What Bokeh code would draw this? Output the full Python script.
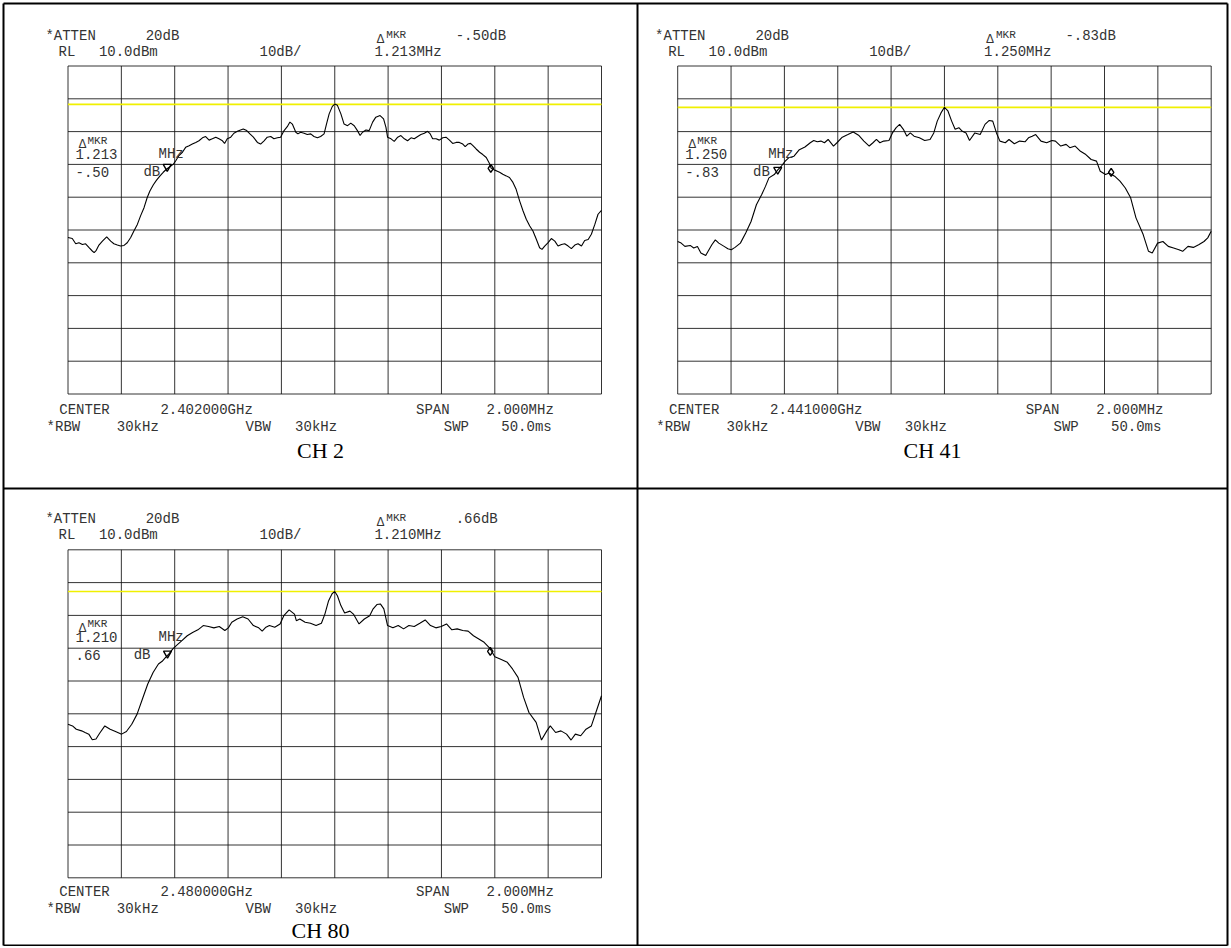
from bokeh.plotting import figure
from bokeh.models import Range1d, ColumnDataSource
from bokeh.embed import file_html
from bokeh.resources import INLINE
from bokeh.core.properties import value

# ---------------- data ----------------
channels = ["CH 2", "CH 41", "CH 80"]
center_ghz = [2.402, 2.441, 2.480]
span_mhz = 2.0
atten_db = 20
ref_level_dbm = 10.0
scale_db_div = 10
rbw_khz = 30
vbw_khz = 30
sweep_ms = 50.0
mkr_delta_mhz = [1.213, 1.250, 1.210]
mkr_delta_db = [-0.50, -0.83, 0.66]
mkr_ref_mhz = [-0.628, -0.625, -0.627]      # reference marker, offset from centre
mkr_ref_dbm = [-20.7, -21.6, -21.6]
display_line_dbm = [-1.7, -2.6, -2.7]

freq_div_mhz = [-1.0, -0.8, -0.6, -0.4, -0.2, 0.0, 0.2, 0.4, 0.6, 0.8, 1.0]
level_div_dbm = [-90, -80, -70, -60, -50, -40, -30, -20, -10, 0, 10]

# (offset from centre in MHz, level in dBm)
ch2_trace = [
    (-1.000, -42.3), (-0.984, -42.6), (-0.971, -44.2), (-0.959, -43.9), (-0.946, -44.4),
    (-0.934, -44.2), (-0.921, -45.4), (-0.909, -46.4), (-0.902, -46.9), (-0.894, -46.2),
    (-0.884, -44.6), (-0.871, -43.4), (-0.855, -42.1), (-0.840, -43.4), (-0.828, -44.2),
    (-0.815, -44.6), (-0.803, -44.9), (-0.790, -44.7), (-0.778, -43.9), (-0.765, -42.3),
    (-0.753, -40.3), (-0.740, -38.3), (-0.728, -35.7), (-0.715, -33.2), (-0.703, -30.1),
    (-0.693, -28.1), (-0.680, -26.2), (-0.668, -24.8), (-0.655, -23.5), (-0.643, -22.4),
    (-0.630, -21.4), (-0.618, -20.7), (-0.605, -19.9), (-0.596, -18.9), (-0.584, -17.3),
    (-0.571, -16.3), (-0.559, -14.8), (-0.546, -14.3), (-0.534, -13.8), (-0.521, -13.3),
    (-0.509, -12.8), (-0.496, -11.9), (-0.484, -11.5), (-0.471, -12.6), (-0.459, -12.2),
    (-0.446, -11.7), (-0.434, -12.2), (-0.421, -12.8), (-0.413, -13.6), (-0.403, -12.2),
    (-0.390, -11.7), (-0.378, -10.5), (-0.365, -9.9), (-0.353, -9.5), (-0.343, -9.2),
    (-0.330, -9.7), (-0.318, -10.7), (-0.305, -11.7), (-0.290, -13.3), (-0.278, -13.8),
    (-0.265, -12.8), (-0.253, -11.7), (-0.240, -11.5), (-0.228, -12.2), (-0.215, -11.9),
    (-0.203, -11.7), (-0.190, -9.7), (-0.178, -8.5), (-0.168, -7.1), (-0.159, -7.7),
    (-0.146, -10.2), (-0.138, -10.7), (-0.128, -10.2), (-0.115, -10.5), (-0.103, -10.9),
    (-0.090, -10.7), (-0.078, -11.5), (-0.065, -11.9), (-0.053, -11.5), (-0.040, -10.7),
    (-0.031, -7.7), (-0.021, -4.6), (-0.009, -2.3), (0.000, -1.6), (0.010, -2.0),
    (0.023, -4.6), (0.035, -7.7), (0.048, -8.2), (0.060, -7.4), (0.073, -8.2),
    (0.085, -9.7), (0.095, -11.2), (0.104, -10.2), (0.117, -9.5), (0.129, -9.7),
    (0.142, -7.1), (0.154, -5.6), (0.170, -5.1), (0.183, -6.1), (0.192, -8.7),
    (0.198, -11.7), (0.211, -12.2), (0.223, -13.0), (0.236, -11.7), (0.248, -11.2),
    (0.261, -12.2), (0.273, -12.8), (0.286, -11.9), (0.298, -12.2), (0.311, -11.5),
    (0.323, -10.9), (0.336, -10.5), (0.348, -9.9), (0.358, -10.7), (0.367, -12.2),
    (0.380, -12.2), (0.392, -12.6), (0.405, -11.9), (0.417, -11.7), (0.430, -12.6),
    (0.442, -13.6), (0.455, -13.3), (0.467, -13.3), (0.480, -13.8), (0.489, -14.6),
    (0.499, -13.8), (0.509, -13.6), (0.518, -14.3), (0.530, -15.3), (0.543, -16.3),
    (0.555, -17.0), (0.568, -17.9), (0.580, -19.7), (0.586, -21.1), (0.596, -21.6),
    (0.605, -21.9), (0.618, -22.4), (0.630, -23.0), (0.643, -23.5), (0.655, -24.0),
    (0.668, -25.5), (0.680, -27.6), (0.693, -31.1), (0.706, -34.2), (0.718, -36.7),
    (0.731, -38.8), (0.743, -40.3), (0.756, -42.9), (0.768, -45.4), (0.777, -45.9),
    (0.787, -44.9), (0.799, -43.9), (0.812, -42.6), (0.825, -43.4), (0.837, -44.9),
    (0.850, -44.4), (0.862, -44.2), (0.875, -44.9), (0.887, -45.7), (0.900, -44.6),
    (0.912, -44.2), (0.925, -44.9), (0.937, -43.2), (0.950, -42.9), (0.962, -41.3),
    (0.975, -38.3), (0.987, -35.2), (1.000, -34.0),
]

ch41_trace = [
    (-1.000, -43.5), (-0.987, -44.0), (-0.973, -45.0), (-0.953, -44.7), (-0.940, -45.5),
    (-0.926, -45.0), (-0.913, -47.0), (-0.895, -47.8), (-0.886, -46.5), (-0.872, -44.5),
    (-0.859, -43.0), (-0.846, -44.0), (-0.826, -45.0), (-0.812, -45.7), (-0.799, -46.0),
    (-0.785, -45.3), (-0.765, -44.0), (-0.745, -40.9), (-0.725, -37.4), (-0.705, -32.3),
    (-0.685, -29.2), (-0.671, -26.7), (-0.658, -24.1), (-0.638, -23.1), (-0.624, -21.6),
    (-0.611, -20.5), (-0.597, -19.0), (-0.584, -18.0), (-0.564, -17.5), (-0.544, -15.5),
    (-0.523, -14.7), (-0.503, -13.4), (-0.490, -12.7), (-0.477, -13.1), (-0.463, -12.9),
    (-0.450, -13.4), (-0.436, -12.4), (-0.416, -14.4), (-0.403, -13.4), (-0.383, -11.7),
    (-0.362, -10.9), (-0.342, -10.1), (-0.322, -11.1), (-0.302, -12.9), (-0.282, -14.4),
    (-0.268, -13.4), (-0.255, -12.4), (-0.242, -13.4), (-0.228, -12.9), (-0.208, -12.7),
    (-0.195, -10.4), (-0.181, -8.8), (-0.168, -7.8), (-0.154, -9.3), (-0.141, -11.4),
    (-0.128, -10.4), (-0.114, -11.4), (-0.094, -11.9), (-0.074, -12.7), (-0.054, -12.4),
    (-0.040, -10.4), (-0.027, -6.8), (-0.013, -4.3), (0.000, -2.6), (0.013, -3.7),
    (0.027, -6.8), (0.040, -9.3), (0.054, -8.8), (0.067, -9.9), (0.081, -10.4),
    (0.094, -12.7), (0.114, -10.4), (0.134, -10.9), (0.152, -7.8), (0.168, -6.6),
    (0.181, -6.8), (0.195, -10.4), (0.208, -12.9), (0.228, -13.4), (0.242, -12.4),
    (0.262, -13.7), (0.282, -12.9), (0.302, -13.1), (0.315, -11.9), (0.329, -11.4),
    (0.342, -10.9), (0.362, -12.9), (0.383, -13.4), (0.403, -12.7), (0.416, -12.9),
    (0.436, -14.4), (0.456, -13.9), (0.470, -14.9), (0.490, -14.4), (0.510, -16.0),
    (0.530, -17.0), (0.550, -18.5), (0.570, -19.0), (0.584, -22.1), (0.604, -23.1),
    (0.617, -22.6), (0.638, -23.6), (0.658, -25.1), (0.678, -27.2), (0.698, -30.2),
    (0.718, -36.3), (0.745, -41.4), (0.765, -46.5), (0.779, -47.0), (0.799, -44.0),
    (0.819, -43.5), (0.839, -45.0), (0.859, -45.5), (0.879, -46.0), (0.893, -46.5),
    (0.913, -45.0), (0.933, -45.3), (0.953, -44.5), (0.973, -43.5), (0.987, -42.4),
    (1.000, -40.4),
]

ch80_trace = [
    (-1.000, -43.2), (-0.983, -43.7), (-0.969, -44.7), (-0.949, -45.2), (-0.936, -45.7),
    (-0.922, -46.2), (-0.909, -47.9), (-0.895, -47.7), (-0.882, -46.0), (-0.862, -43.7),
    (-0.842, -44.7), (-0.822, -45.4), (-0.799, -46.2), (-0.781, -45.4), (-0.761, -43.2),
    (-0.741, -40.1), (-0.721, -35.5), (-0.701, -30.9), (-0.681, -27.4), (-0.661, -24.8),
    (-0.647, -24.0), (-0.634, -22.8), (-0.620, -21.6), (-0.607, -20.2), (-0.594, -19.2),
    (-0.573, -17.7), (-0.553, -16.2), (-0.533, -15.2), (-0.513, -14.4), (-0.493, -13.1),
    (-0.473, -13.4), (-0.453, -13.8), (-0.433, -13.4), (-0.412, -14.6), (-0.399, -13.8),
    (-0.386, -12.1), (-0.366, -11.1), (-0.345, -10.4), (-0.325, -11.1), (-0.305, -13.1),
    (-0.285, -13.8), (-0.272, -14.8), (-0.258, -13.6), (-0.245, -13.1), (-0.225, -13.6),
    (-0.205, -12.6), (-0.191, -10.1), (-0.171, -8.3), (-0.151, -9.6), (-0.144, -11.6),
    (-0.131, -11.1), (-0.111, -12.1), (-0.091, -12.4), (-0.070, -13.1), (-0.050, -12.4),
    (-0.037, -9.6), (-0.023, -5.5), (-0.010, -3.4), (0.000, -2.7), (0.010, -4.0),
    (0.023, -7.0), (0.037, -9.3), (0.057, -8.7), (0.070, -9.6), (0.091, -12.6),
    (0.111, -11.1), (0.131, -10.1), (0.144, -8.0), (0.158, -6.7), (0.171, -6.5),
    (0.184, -8.0), (0.198, -13.1), (0.218, -13.8), (0.238, -13.1), (0.258, -14.1),
    (0.278, -13.1), (0.298, -13.4), (0.319, -12.4), (0.339, -11.4), (0.359, -13.1),
    (0.379, -13.8), (0.399, -13.4), (0.419, -12.6), (0.439, -14.4), (0.459, -14.1),
    (0.480, -14.6), (0.500, -14.8), (0.520, -16.2), (0.540, -17.2), (0.560, -18.2),
    (0.580, -19.9), (0.587, -20.8), (0.600, -22.6), (0.620, -23.3), (0.647, -24.3),
    (0.667, -26.4), (0.687, -28.9), (0.708, -35.0), (0.728, -39.6), (0.755, -42.6),
    (0.775, -48.0), (0.795, -45.2), (0.808, -43.7), (0.828, -45.7), (0.848, -45.2),
    (0.869, -46.2), (0.886, -48.0), (0.902, -46.2), (0.922, -46.7), (0.942, -44.7),
    (0.962, -43.7), (0.983, -38.6), (1.000, -34.5),
]

traces = [ch2_trace, ch41_trace, ch80_trace]

# ---------------- layout (page pixel space, y grows downward) ----------------
W, H = 1229, 946
REF_X = (0.0, 1229.0)
REF_Y = (946.0, 0.0)

# graticule rectangles (x0, x1, y0, y1) and cell boxes (x0, x1, y0, y1)
grid_boxes = [(67.5, 601.0, 65.5, 393.5), (677.2, 1210.7, 65.5, 393.5), (67.5, 601.0, 549.3, 877.3)]
cell_boxes = [(3, 637, 3, 488), (637, 1227, 3, 488), (3, 637, 488, 945)]
bottom_offsets = [(16, 33, 56), (16, 33, 56), (14, 31, 53)]

MONO = value("Liberation Mono")
SERIF = value("Liberation Serif")
TXT = "#333333"

p = figure(width=W, height=H, x_range=Range1d(*REF_X), y_range=Range1d(*REF_Y),
           x_axis_location=None, y_axis_location=None, toolbar_location=None,
           output_backend="svg", min_border=0, outline_line_color=None,
           background_fill_color="white", border_fill_color="white")
p.grid.visible = False

# table borders
bx = [3, 637, 1227]
by = [3, 488, 945]
p.segment(x0=bx, y0=[3] * 3, x1=bx, y1=[945] * 3, line_color="black", line_width=2)
p.segment(x0=[3] * 3, y0=by, x1=[1227] * 3, y1=by, line_color="black", line_width=2)


def hp_db(v):
    s = f"{v:.2f}"
    if s.startswith("0."):
        return s[1:]
    if s.startswith("-0."):
        return "-" + s[2:]
    return s


mono = dict(x=[], y=[], t=[])
small = dict(x=[], y=[], t=[])
delta = dict(x=[], y=[], t=[])
serif = dict(x=[], y=[], t=[])


def put(d, x, y, t):
    d["x"].append(x); d["y"].append(y); d["t"].append(t)


f_lo, f_hi = -span_mhz / 2, span_mhz / 2
d_top = ref_level_dbm
d_bot = ref_level_dbm - 10 * scale_db_div

for i in range(3):
    gx0, gx1, gy0, gy1 = grid_boxes[i]

    def px_to_f(px):
        return f_lo + (px - gx0) / (gx1 - gx0) * (f_hi - f_lo)

    def py_to_d(py):
        return d_top - (py - gy0) / (gy1 - gy0) * (d_top - d_bot)

    xn, yn = f"f{i}", f"d{i}"
    p.extra_x_ranges[xn] = Range1d(px_to_f(REF_X[0]), px_to_f(REF_X[1]))
    p.extra_y_ranges[yn] = Range1d(py_to_d(REF_Y[0]), py_to_d(REF_Y[1]))
    kw = dict(x_range_name=xn, y_range_name=yn)

    # graticule
    n = len(freq_div_mhz)
    p.segment(x0=freq_div_mhz, y0=[d_bot] * n, x1=freq_div_mhz, y1=[d_top] * n,
              line_color="#111111", line_width=1, line_alpha=0.85, **kw)
    m = len(level_div_dbm)
    p.segment(x0=[f_lo] * m, y0=level_div_dbm, x1=[f_hi] * m, y1=level_div_dbm,
              line_color="#111111", line_width=1, line_alpha=0.85, **kw)

    # display line
    dl = display_line_dbm[i]
    p.segment(x0=[f_lo], y0=[dl], x1=[f_hi], y1=[dl], line_color="#f0f000", line_width=1.6, **kw)

    # trace
    fs = [a for a, b in traces[i]]
    ds = [b for a, b in traces[i]]
    p.line(fs, ds, line_color="black", line_width=1.1, **kw)

    # markers
    p.scatter([mkr_ref_mhz[i]], [mkr_ref_dbm[i]], marker="inverted_triangle", size=8,
              fill_color=None, line_color="black", line_width=1.4, **kw)
    p.scatter([mkr_ref_mhz[i] + mkr_delta_mhz[i]], [mkr_ref_dbm[i] + mkr_delta_db[i]],
              marker="diamond", size=8, fill_color=None, line_color="black", line_width=1.4, **kw)

    # instrument header
    r1, r2 = gy0 - 30.5, gy0 - 14.5
    put(mono, gx0 - 22.6, r1, "*ATTEN")
    put(mono, gx0 + 77.7, r1, f"{atten_db}dB")
    put(delta, gx0 + 308.4, r1 + 3, "Δ")
    put(small, gx0 + 318.3, r1 - 1, "MKR")
    put(mono, gx0 + 387.7, r1, f"{hp_db(mkr_delta_db[i])}dB")
    put(mono, gx0 - 9.5, r2, "RL")
    put(mono, gx0 + 30.9, r2, f"{ref_level_dbm:.1f}dBm")
    put(mono, gx0 + 191.5, r2, f"{scale_db_div}dB/")
    put(mono, gx0 + 306.4, r2, f"{mkr_delta_mhz[i]:.3f}MHz")

    # marker readout inside graticule
    put(delta, gx0 + 10.5, gy0 + 78, "Δ")
    put(small, gx0 + 19.5, gy0 + 74.5, "MKR")
    put(mono, gx0 + 7.5, gy0 + 87.5, f"{mkr_delta_mhz[i]:.3f}")
    put(mono, gx0 + 90.5, gy0 + 87.5, "MHz")
    s = hp_db(mkr_delta_db[i])
    put(mono, gx0 + 7.5, gy0 + 105.5, s)
    put(mono, gx0 + 7.5 + 9.7 * (len(s) + 3), gy0 + 105.5, "dB")

    # instrument footer
    o1, o2, o3 = bottom_offsets[i]
    b1, b2 = gy1 + o1, gy1 + o2
    put(mono, gx0 - 8.7, b1, "CENTER")
    put(mono, gx0 + 92.4, b1, f"{center_ghz[i]:.6f}GHz")
    put(mono, gx0 + 348.0, b1, "SPAN")
    put(mono, gx0 + 418.6, b1, f"{span_mhz:.3f}MHz")
    put(mono, gx0 - 21.4, b2, "*RBW")
    put(mono, gx0 + 48.8, b2, f"{rbw_khz}kHz")
    put(mono, gx0 + 177.6, b2, "VBW")
    put(mono, gx0 + 227.1, b2, f"{vbw_khz}kHz")
    put(mono, gx0 + 375.8, b2, "SWP")
    put(mono, gx0 + 433.3, b2, f"{sweep_ms:.1f}ms")

    cx0, cx1, cy0, cy1 = cell_boxes[i]
    put(serif, (cx0 + cx1) / 2, gy1 + o3, channels[i])

p.text(x="x", y="y", text="t", source=ColumnDataSource(mono), text_font=MONO,
       text_font_size="14px", text_color=TXT, text_baseline="middle", text_align="left")
p.text(x="x", y="y", text="t", source=ColumnDataSource(small), text_font=MONO,
       text_font_size="11px", text_color=TXT, text_baseline="middle", text_align="left")
p.text(x="x", y="y", text="t", source=ColumnDataSource(delta), text_font=value("Liberation Sans"),
       text_font_size="12px", text_color=TXT, text_baseline="middle", text_align="left")
p.text(x="x", y="y", text="t", source=ColumnDataSource(serif), text_font=SERIF,
       text_font_size="22px", text_color="black", text_baseline="middle", text_align="center")

open("out.html", "w").write(file_html(p, INLINE))
